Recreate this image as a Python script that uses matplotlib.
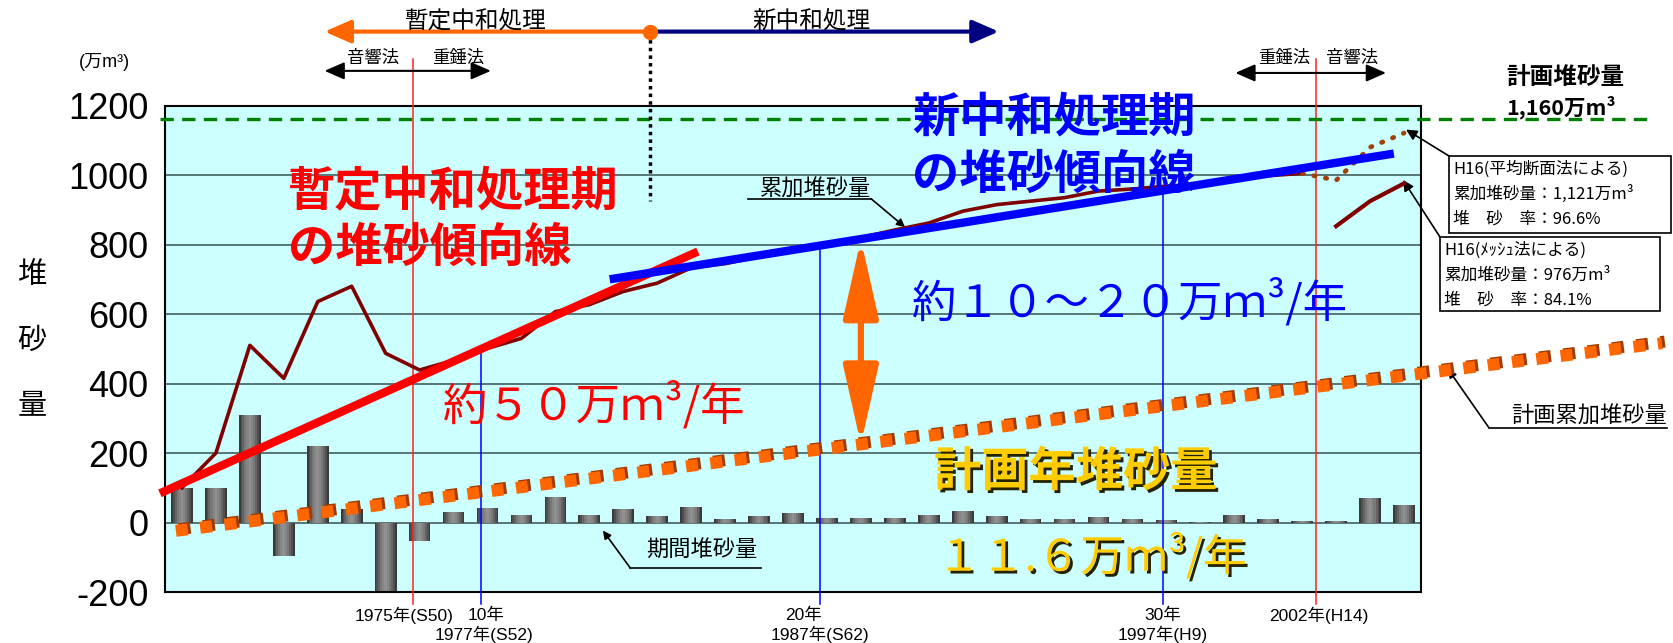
import matplotlib
matplotlib.use('Agg')
import matplotlib.pyplot as plt
import matplotlib.patheffects as pe
from matplotlib.patches import FancyArrowPatch, Rectangle

plt.rcParams['font.family'] = ['Noto Sans CJK JP', 'DejaVu Sans']

# ---- data (万m3) ----
years = list(range(1968, 2005))
# 期間堆砂量 (yearly)
period = [100, 100, 310, -95, 221, 39, -200, -52, 31, 42,
          22, 74, 22, 38, 18, 44, 10, 18, 28, 12,
          12, 12, 21, 33, 18, 10, 10, 15, 10, 7,
          1, 21, 10, 4, 4, 70, 50]
# 累加堆砂量 1968..2001
cum_years = list(range(1968, 2002))
cum = [100, 200, 510, 415, 636, 680, 487, 439, 467, 501,
       530, 607, 627, 665, 689, 733, 745, 765, 785, 800,
       820, 842, 862, 896, 915, 925, 935, 954, 960, 968,
       975, 988, 998, 1005]
# H16 平均断面法 (dotted) and メッシュ法 (solid)
avg_years = [2001, 2002, 2003, 2004]
avg_cum = [1005, 985, 1080, 1121]
mesh_years = [2002, 2003, 2004]
mesh_cum = [853, 925, 976]
# trend lines (start/end)
red_trend_x = [1967.35, 1983.2]
red_trend_y = [84, 780]
blue_trend_x = [1980.6, 2003.7]
blue_trend_y = [700, 1062]
plan_x = [1967.82, 2011.6]
plan_y = [-24, 516]
plan_level = 1160

yticks = [-200, 0, 200, 400, 600, 800, 1000, 1200]

W, H = 1673, 643


def P(px, py):
    return (px / W, 1 - py / H)


fig = plt.figure(figsize=(W / 100, H / 100), dpi=100)
ax = fig.add_axes([165 / W, 1 - 592 / H, (1421 - 165) / W, (592 - 105.6) / H])
ax.set_facecolor('#CCFFFF')
ax.set_xlim(1967.5, 2004.5)
ax.set_ylim(-200, 1200)
ax.set_yticks(yticks)
ax.set_yticklabels([str(v) for v in yticks], family=['Liberation Sans', 'DejaVu Sans'], fontsize=26)
ax.set_xticks([])
ax.tick_params(axis='y', length=0, pad=12)
ax.grid(axis='y', color='#4d6b6b', lw=1.3)
ax.set_axisbelow(True)
for s in ax.spines.values():
    s.set_linewidth(1.5)

# bars with a fake cylinder shading
for w, c in [(0.64, '#3a3a3a'), (0.54, '#505050'), (0.44, '#646464'), (0.32, '#787878'),
             (0.20, '#868686'), (0.08, '#909090')]:
    ax.bar(years, period, width=w, color=c, zorder=2)

# vertical reference lines
for xv in [1974.8, 2001.4]:
    ax.plot([xv, xv], [1334, -235], color='#FF2020', lw=1.1, clip_on=False, zorder=3)
for xv, top in [(1976.8, 499), (1986.8, 797), (1996.9, 955)]:
    ax.plot([xv, xv], [top, -235], color='#0000FF', lw=1.1, clip_on=False, zorder=3)

# planned level
ax.plot([1967.35, 2011.4], [plan_level, plan_level], color='#008000', lw=2.4,
        ls=(0, (4, 2.5)), clip_on=False, zorder=4)

# planned cumulative (orange squares with shadow)
ax.plot(plan_x, plan_y, color='#FF6600', lw=8.6, ls=(0, (1, 1.05)), dash_capstyle='butt',
        clip_on=False, zorder=5,
        path_effects=[pe.SimpleLineShadow(offset=(2, 1.2), shadow_color='#A03C00', alpha=1),
                      pe.Normal()])

# cumulative lines
ax.plot(cum_years, cum, color='#800000', lw=2.6, zorder=6)
ax.plot(avg_years, avg_cum, color='#A0400A', lw=3.4, ls=(0, (0.3, 2.2)), dash_capstyle='round', zorder=6)
ax.plot(mesh_years, mesh_cum, color='#800000', lw=3, zorder=6)

# trend lines
ax.plot(red_trend_x, red_trend_y, color='#FF0000', lw=6, solid_capstyle='butt', zorder=7, clip_on=False)
ax.plot(blue_trend_x, blue_trend_y, color='#0000FF', lw=6, solid_capstyle='butt', zorder=7)

# orange double arrow
ax.add_patch(FancyArrowPatch((1988.0, 225), (1988.0, 815), arrowstyle='<|-|>,head_length=1.6,head_width=0.36',
                             mutation_scale=30, color='#FF6600', lw=4.5, zorder=8, shrinkA=0, shrinkB=0))

# top: treatment periods
ax.plot([1981.8, 1981.8], [1413, 925], color='black', lw=2.5, ls=(0, (1, 1.2)), clip_on=False, zorder=8)
ax.annotate('', xy=(1972.2, 1413), xytext=(1981.8, 1413), annotation_clip=False,
            arrowprops=dict(arrowstyle='-|>,head_length=0.8,head_width=0.35', color='#FF6600', lw=3,
                            mutation_scale=20, shrinkA=0, shrinkB=0))
ax.annotate('', xy=(1992.06, 1413), xytext=(1981.8, 1413), annotation_clip=False,
            arrowprops=dict(arrowstyle='-|>,head_length=0.8,head_width=0.35', color='#000080', lw=3,
                            mutation_scale=20, shrinkA=0, shrinkB=0))
ax.plot([1981.8], [1413], marker='o', ms=10, color='#FF6600', clip_on=False, zorder=9)
for x0, x1, yv in [(1972.2, 1977.1, 1300), (1999.03, 2003.47, 1294)]:
    ax.annotate('', xy=(x0, yv), xytext=(x1, yv), annotation_clip=False,
                arrowprops=dict(arrowstyle='<|-|>,head_length=0.8,head_width=0.35', color='black', lw=1.5,
                                mutation_scale=15, shrinkA=0, shrinkB=0))

fig.text(*P(476, 21), '暫定中和処理', fontsize=17, ha='center', va='center')
fig.text(*P(811, 21), '新中和処理', fontsize=17, ha='center', va='center')
fig.text(*P(104, 62), '(万m³)', fontsize=13, ha='center', va='center',
         family=['Liberation Sans', 'Noto Sans CJK JP'])
fig.text(*P(373, 58), '音響法', fontsize=12.5, ha='center', va='center')
fig.text(*P(458, 58), '重錘法', fontsize=12.5, ha='center', va='center')
fig.text(*P(1284, 58), '重錘法', fontsize=12.5, ha='center', va='center')
fig.text(*P(1352, 58), '音響法', fontsize=12.5, ha='center', va='center')
fig.text(*P(1506, 77), '計画堆砂量', fontsize=17, fontweight='bold', ha='left', va='center')
fig.text(*P(1506, 107), '1,160万m³', fontsize=15.5, fontweight='bold', ha='left', va='center')

# y label
fig.text(*P(32, 341), '堆\n砂\n量', fontsize=21, ha='center', va='center', linespacing=2.55)

# big texts
fig.text(*P(288, 220), '暫定中和処理期\nの堆砂傾向線', fontsize=34, fontweight='bold', color='#FF0000',
         ha='left', va='center', linespacing=1.22)
fig.text(*P(912, 146), '新中和処理期\nの堆砂傾向線', fontsize=34, fontweight='bold', color='#0000FF',
         ha='left', va='center', linespacing=1.25)
fig.text(*P(912, 302), '約１０～２０万ｍ³/年', fontsize=32, color='#0000FF', ha='left', va='center')
fig.text(*P(443, 405), '約５０万ｍ³/年', fontsize=32, color='#FF0000', ha='left', va='center')
shadow = [pe.withSimplePatchShadow(offset=(2, -2), shadow_rgbFace='#222200', alpha=1)]
fig.text(*P(934, 472), '計画年堆砂量', fontsize=34, fontweight='bold', color='#FFCC00',
         ha='left', va='center', path_effects=shadow)
fig.text(*P(937, 557), '１１.６万ｍ³/年', fontsize=31.5, color='#FFCC00',
         ha='left', va='center', path_effects=shadow)

# small labels with leaders
fig.text(*P(816, 189), '累加堆砂量', fontsize=16, ha='center', va='center')
ax.plot([1984.66, 1988.3], [932, 932], color='black', lw=1.2)
ax.annotate('', xy=(1989.3, 850), xytext=(1988.3, 932),
            arrowprops=dict(arrowstyle='-|>', color='black', lw=1.2, mutation_scale=12, shrinkA=0, shrinkB=0))
fig.text(*P(702, 550), '期間堆砂量', fontsize=16, ha='center', va='center')
ax.plot([1981.2, 1985.06], [-130, -130], color='black', lw=1.2)
ax.annotate('', xy=(1980.4, -23), xytext=(1981.2, -130),
            arrowprops=dict(arrowstyle='-|>', color='black', lw=1.2, mutation_scale=12, shrinkA=0, shrinkB=0))
fig.text(*P(1589, 416), '計画累加堆砂量', fontsize=16, ha='center', va='center')
ax.plot([2006.5, 2011.76], [273, 273], color='black', lw=1.2, clip_on=False)
ax.annotate('', xy=(2005.3, 441), xytext=(2006.5, 273), annotation_clip=False,
            arrowprops=dict(arrowstyle='-|>', color='black', lw=1.2, mutation_scale=12, shrinkA=0, shrinkB=0))

# H16 boxes
for (x0, y0, x1, y1), tip, lines in [
        ((1449, 156, 1671, 233), (2004.06, 1131),
         ['H16(平均断面法による)', '累加堆砂量：1,121万m³', '堆　砂　率：96.6%']),
        ((1440, 237, 1660, 311), (2003.97, 986),
         ['H16(ﾒｯｼｭ法による)', '累加堆砂量：976万m³', '堆　砂　率：84.1%'])]:
    fig.add_artist(Rectangle(P(x0, y1), (x1 - x0) / W, (y1 - y0) / H, transform=fig.transFigure,
                             facecolor='white', edgecolor='black', lw=1.2, zorder=10))
    for i, t in enumerate(lines):
        fig.text(*P(x0 + 4, y0 + 13 + i * 25), t, fontsize=12, ha='left', va='center', zorder=11)
    ax.annotate('', xy=tip, xytext=P(x0, y0), textcoords='figure fraction', annotation_clip=False,
                arrowprops=dict(arrowstyle='-|>', color='black', lw=1.2, mutation_scale=16, shrinkA=0, shrinkB=0))

# x labels
xt = ax.get_xaxis_transform()
lab_font = ['Liberation Sans', 'Noto Sans CJK JP']
for xv, yv, t in [(1974.53, -0.047, '1975年(S50)'), (1976.97, -0.047, '10年'),
                  (1976.9, -0.088, '1977年(S52)'), (1986.3, -0.047, '20年'),
                  (1986.8, -0.088, '1987年(S62)'), (1996.9, -0.047, '30年'),
                  (1996.9, -0.088, '1997年(H9)'), (2001.5, -0.047, '2002年(H14)')]:
    ax.text(xv, yv, t, transform=xt, fontsize=12.5, ha='center', va='center', family=lab_font)

fig.savefig('out.png', dpi=100)
